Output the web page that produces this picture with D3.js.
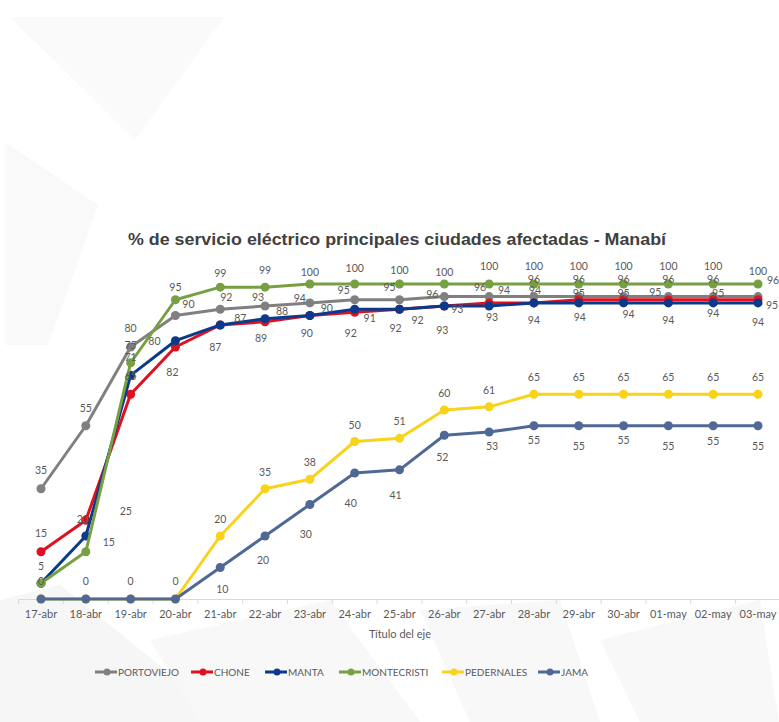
<!DOCTYPE html>
<html>
<head>
<meta charset="utf-8">
<script src="https://cdn.jsdelivr.net/npm/d3@7/dist/d3.min.js"></script>
<style>
  html, body { margin: 0; padding: 0; background: #ffffff; }
  svg { display: block; }
</style>
</head>
<body>
<svg id="chart" width="779" height="722"></svg>
<script>
// ---------- DATA ----------
const categories = ["17-abr","18-abr","19-abr","20-abr","21-abr","22-abr","23-abr","24-abr","25-abr","26-abr","27-abr","28-abr","29-abr","30-abr","01-may","02-may","03-may"];
const portoviejo  = [35,55,80,90,92,93,94,95,95,96,96,96,96,96,96,96,96];
const chone       = [15,25,65,80,87,88,90,91,92,93,94,94,95,95,95,95,95];
const manta       = [5,20,71,82,87,89,90,92,92,93,93,94,94,94,94,94,94];
const montecristi = [5,15,75,95,99,99,100,100,100,100,100,100,100,100,100,100,100];
const pedernales  = [0,0,0,0,20,35,38,50,51,60,61,65,65,65,65,65,65];
const jama        = [0,0,0,0,10,20,30,40,41,52,53,55,55,55,55,55,55];
const seriesNames = ["PORTOVIEJO","CHONE","MANTA","MONTECRISTI","PEDERNALES","JAMA"];
const titleText = "% de servicio eléctrico principales ciudades afectadas - Manabí";
const xAxisTitle = "Título del eje";

// ---------- STYLE ----------
const colors = {
  PORTOVIEJO: "#808080",
  CHONE: "#e0101f",
  MANTA: "#0b3a8c",
  MONTECRISTI: "#77a043",
  PEDERNALES: "#f9d31a",
  JAMA: "#4f6895"
};
// label offsets [dx, dy] (default per series, overrides by category index; "hide" = shared label drawn by another series)
const labelOffsets = {
  PORTOVIEJO: { def: [0,-18], 0: [0,-19], 2: [0,-19], 3: [13,-12], 4: [6,-12], 5: [-7,-9], 6: [-10,-5], 7: [-11,-10],
                8: [-10,-13], 9: [-12,-3], 10: [-9,-10], 16: [15,-17] },
  CHONE: { def: [0,-7], 0: [0,-19], 1: [40,-9], 2: [0,-18], 3: [-21,-6], 4: [20,-7], 5: [17,-11], 6: [17,-8],
           7: [15,6], 8: [18,11], 9: [13,3], 10: [15,-13], 11: [1,-13], 14: [-13,-8], 15: [5,-7], 16: [14,5] },
  MANTA: { def: [0,17], 0: [0,-17], 1: [-3,-17], 2: [0,-18], 3: [-3,31], 4: [-5,22], 5: [-4,19], 6: [-3,17],
           7: [-4,24], 8: [-4,19], 9: [-2,24], 10: [3,11], 12: [1,14], 13: [5,11], 15: [0,10], 16: [0,19] },
  MONTECRISTI: { def: [0,-18], 0: "hide", 1: [23,-10], 2: [0,-18], 3: [0,-13], 4: [0,-14], 5: [0,-17], 6: [0,-12],
                 7: [0,-16], 8: [0,-14], 9: [0,-12], 16: [0,-13] },
  PEDERNALES: { def: [0,-17], 0: "hide", 1: "hide", 2: "hide", 3: "hide" },
  JAMA: { def: [0,20], 0: [0,-18], 1: [0,-18], 2: [0,-18], 3: [0,-18], 4: [2,21], 5: [-2,24], 6: [-4,29],
          7: [-4,30], 8: [-4,25], 9: [-2,22], 10: [3,14], 11: [0,14], 13: [0,14], 15: [0,15] }
};

const seriesData = [portoviejo, chone, manta, montecristi, pedernales, jama];
const series = seriesNames.map((name, k) => ({ name, values: seriesData[k] }));

const svg = d3.select("#chart");

// background decorative shapes (faint slide template)
const bg = svg.append("g");
const shapes = [
  { p: [[10,17],[224,17],[135,140]], f: "#fafafa" },
  { p: [[5,142],[98,205],[48,345],[5,345]], f: "#f9f9f9" },
  { p: [[0,600],[60,585],[230,722],[0,722]], f: "#f6f6f6" },
  { p: [[150,640],[330,600],[420,722],[200,722]], f: "#f8f8f8" },
  { p: [[420,610],[560,600],[600,722],[470,722]], f: "#f8f8f8" },
  { p: [[600,640],[760,600],[779,722],[640,722]], f: "#f8f8f8" }
];
shapes.forEach(s => bg.append("polygon")
  .attr("points", s.p.map(q => q.join(",")).join(" "))
  .attr("fill", s.f));

// ---------- SCALES ----------
const plotLeft = 18.6, plotRight = 780.4, yZero = 599, yTop = 284;
const x = d3.scaleBand().domain(categories).range([plotLeft, plotRight]).padding(0);
const cx = c => x(c) + x.bandwidth() / 2;
const y = d3.scaleLinear().domain([0, 100]).range([yZero, yTop]);

// ---------- TITLE ----------
svg.append("text")
  .attr("x", 397).attr("y", 245)
  .attr("text-anchor", "middle")
  .attr("font-family", "'Liberation Sans', Arial, sans-serif")
  .attr("font-weight", "bold")
  .attr("font-size", 17)
  .attr("fill", "#404040")
  .attr("textLength", 538)
  .attr("lengthAdjust", "spacingAndGlyphs")
  .text(titleText);

// ---------- X AXIS ----------
const xAxis = d3.axisBottom(x).tickSize(0).tickPadding(11);
const gx = svg.append("g").attr("transform", `translate(0,${yZero})`).call(xAxis);
gx.select(".domain").attr("stroke", "#d9d9d9").attr("stroke-width", 1);
gx.selectAll(".tick text")
  .attr("font-family", "Lato, 'Open Sans', sans-serif")
  .attr("font-size", 11)
  .attr("fill", "#595959");
gx.selectAll(".btick").data(categories).enter().append("line")
  .attr("class", "btick")
  .attr("x1", d => x(d)).attr("x2", d => x(d))
  .attr("y1", 0).attr("y2", 5)
  .attr("stroke", "#d9d9d9");

svg.append("text")
  .attr("x", 400).attr("y", 638)
  .attr("text-anchor", "middle")
  .attr("font-family", "Lato, 'Open Sans', sans-serif")
  .attr("font-size", 11)
  .attr("fill", "#595959")
  .text(xAxisTitle);

// ---------- LINES ----------
const line = d3.line()
  .x((d, i) => cx(categories[i]))
  .y(d => y(d));

const gSeries = svg.append("g");
series.forEach(s => {
  const g = gSeries.append("g");
  g.append("path")
    .datum(s.values)
    .attr("d", line)
    .attr("fill", "none")
    .attr("stroke", colors[s.name])
    .attr("stroke-width", 3)
    .attr("stroke-linejoin", "round");
  g.selectAll("circle").data(s.values).enter().append("circle")
    .attr("cx", (d, i) => cx(categories[i]))
    .attr("cy", d => y(d))
    .attr("r", 4.5)
    .attr("fill", colors[s.name]);
});

// ---------- DATA LABELS ----------
const gLabels = svg.append("g");
series.forEach(s => {
  const off = labelOffsets[s.name];
  s.values.forEach((v, i) => {
    const o = off[i] || off.def;
    if (o === "hide") return;
    gLabels.append("text")
      .attr("x", cx(categories[i]) + o[0])
      .attr("y", y(v) + o[1])
      .attr("text-anchor", "middle")
      .attr("dominant-baseline", "central")
      .attr("font-family", "Lato, 'Open Sans', sans-serif")
      .attr("font-size", 10.5)
      .attr("fill", "#595959")
      .text(v);
  });
});

// ---------- LEGEND ----------
const legendX = [95, 191, 265, 339, 442, 538];
const legendY = 672;
const gLeg = svg.append("g");
series.forEach((s, k) => {
  const lx = legendX[k];
  gLeg.append("line")
    .attr("x1", lx).attr("x2", lx + 22)
    .attr("y1", legendY).attr("y2", legendY)
    .attr("stroke", colors[s.name]).attr("stroke-width", 3);
  gLeg.append("circle")
    .attr("cx", lx + 12).attr("cy", legendY).attr("r", 3.5)
    .attr("fill", colors[s.name]);
  gLeg.append("text")
    .attr("x", lx + 23).attr("y", legendY)
    .attr("dominant-baseline", "central")
    .attr("font-family", "Lato, 'Open Sans', sans-serif")
    .attr("font-size", 10)
    .attr("fill", "#595959")
    .text(s.name);
});
</script>
</body>
</html>
